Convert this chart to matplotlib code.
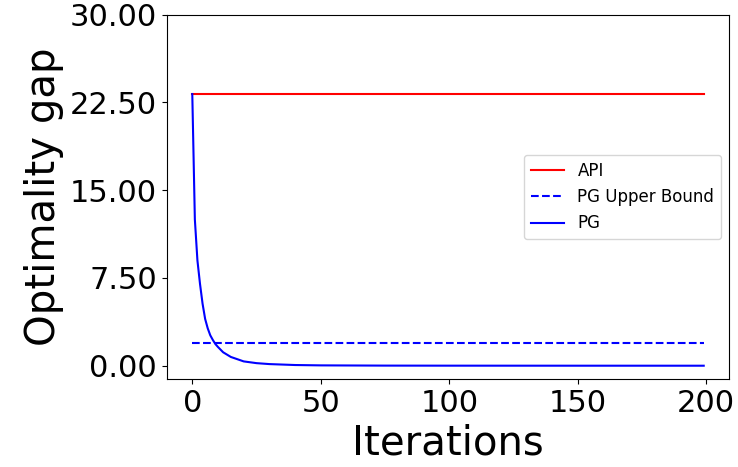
import numpy as np
import matplotlib
matplotlib.use("Agg")
import matplotlib.pyplot as plt

# data
iters = np.arange(200)
api_gap = 23.22
pg_bound = 1.95

pg_iters = [0, 1, 2, 3, 4, 5, 6, 7, 8, 9, 10, 12, 15, 20, 25, 30, 40, 50, 75, 100, 150, 199]
pg_gap = [23.22, 12.5, 9.0, 7.0, 5.3, 4.0, 3.2, 2.6, 2.2, 1.85, 1.6, 1.15, 0.75, 0.37, 0.22,
          0.14, 0.06, 0.03, 0.01, 0.005, 0.002, 0.001]

fig = plt.figure(figsize=(7.38, 4.67), dpi=100)
ax = fig.add_axes([0.2259, 0.1878, 0.7623, 0.7807])

ax.plot(iters, np.full(len(iters), api_gap), color='red', label='API')
ax.plot(iters, np.full(len(iters), pg_bound), color='blue', linestyle='--', label='PG Upper Bound')
ax.plot(pg_iters, pg_gap, color='blue', label='PG')

ax.set_ylim(top=30)
ax.set_yticks(np.linspace(0, 30, 5))
ax.yaxis.set_major_formatter(matplotlib.ticker.FormatStrFormatter('%.2f'))
ax.set_xticks([0, 50, 100, 150, 200])
ax.tick_params(labelsize=22)

ax.set_xlabel('Iterations', fontsize=29)
ax.set_ylabel('Optimality gap', fontsize=29)
ax.legend(loc='center right', fontsize=12)

plt.savefig("out.png")
